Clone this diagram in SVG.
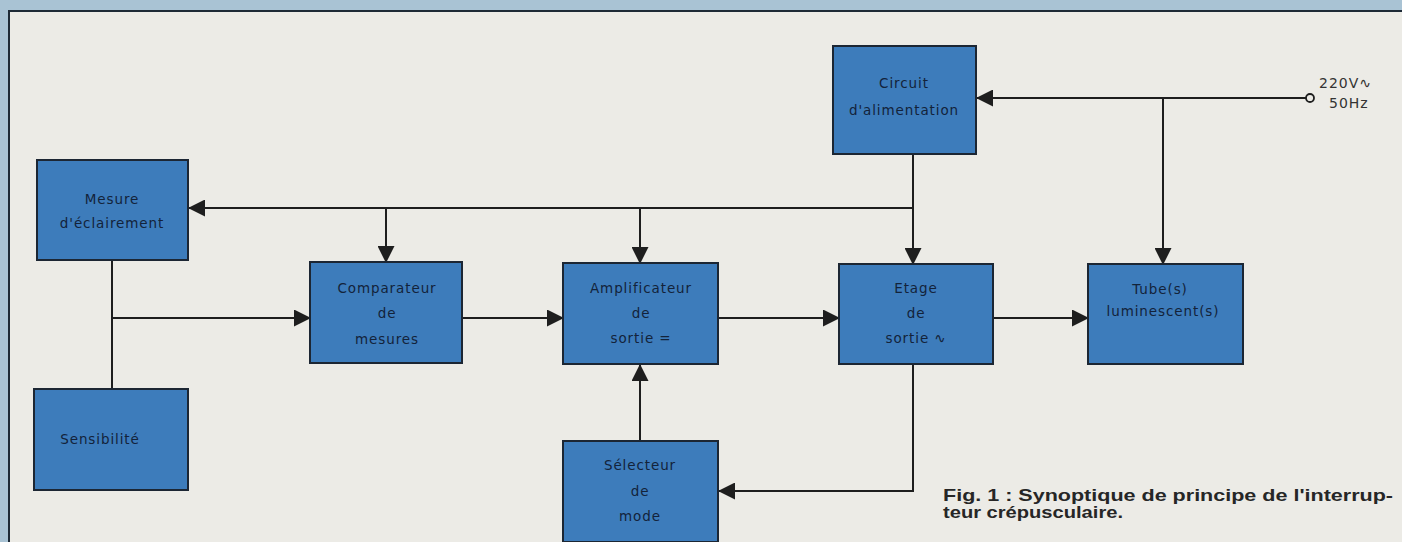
<svg xmlns="http://www.w3.org/2000/svg" width="1402" height="542" viewBox="0 0 1402 542">
<style>
.box{fill:#3d7cbb;stroke:#1c2633;stroke-width:2}
.lbl{font-family:"DejaVu Sans",sans-serif;font-size:13.5px;fill:#13233a;text-anchor:middle;letter-spacing:0.9px}
.wire{stroke:#1e1e1e;stroke-width:2;fill:none}
.cap{font-family:"Liberation Sans",Arial,sans-serif;font-weight:bold;font-size:17px;fill:#262626}
.pw{font-family:"DejaVu Sans",sans-serif;font-size:14px;fill:#333;letter-spacing:1px}
</style>
<defs>
<marker id="ah" markerUnits="userSpaceOnUse" markerWidth="17" markerHeight="17" viewBox="0 0 17 17" refX="16" refY="8.5" orient="auto">
<path d="M0,0 L17,8.5 L0,17 Z" fill="#1e1e1e"/>
</marker>
</defs>
<rect x="0" y="0" width="1402" height="542" fill="#a9c3d4"/>
<rect x="9" y="11" width="1400" height="540" fill="#ecebe6" stroke="#1e2a36" stroke-width="2"/>

<g id="connectors">
<circle cx="1310" cy="98" r="4" fill="#ecebe6" stroke="#1e1e1e" stroke-width="1.8"/>
<line class="wire" x1="1306" y1="98" x2="977" y2="98" marker-end="url(#ah)"/>
<line class="wire" x1="1163" y1="98" x2="1163" y2="264" marker-end="url(#ah)"/>
<line class="wire" x1="913" y1="154" x2="913" y2="264" marker-end="url(#ah)"/>
<line class="wire" x1="913" y1="208" x2="189" y2="208" marker-end="url(#ah)"/>
<line class="wire" x1="386" y1="208" x2="386" y2="262" marker-end="url(#ah)"/>
<line class="wire" x1="640" y1="208" x2="640" y2="263" marker-end="url(#ah)"/>
<line class="wire" x1="112" y1="260" x2="112" y2="389"/>
<line class="wire" x1="112" y1="318" x2="310" y2="318" marker-end="url(#ah)"/>
<line class="wire" x1="462" y1="318" x2="563" y2="318" marker-end="url(#ah)"/>
<line class="wire" x1="718" y1="318" x2="839" y2="318" marker-end="url(#ah)"/>
<line class="wire" x1="993" y1="318" x2="1088" y2="318" marker-end="url(#ah)"/>
<polyline class="wire" points="913,364 913,491 719,491" marker-end="url(#ah)"/>
<line class="wire" x1="640" y1="441" x2="640" y2="365" marker-end="url(#ah)"/>
</g>

<g id="circuit">
<rect class="box" x="833" y="46" width="143" height="108"/>
<text class="lbl" x="904" y="88">Circuit</text>
<text class="lbl" x="904" y="115">d'alimentation</text>
</g>
<g id="mesure">
<rect class="box" x="37" y="160" width="151" height="100"/>
<text class="lbl" x="112" y="204">Mesure</text>
<text class="lbl" x="112" y="228">d'éclairement</text>
</g>
<g id="sensibilite">
<rect class="box" x="34" y="389" width="154" height="101"/>
<text class="lbl" x="100" y="444">Sensibilité</text>
</g>
<g id="comparateur">
<rect class="box" x="310" y="262" width="152" height="101"/>
<text class="lbl" x="387" y="293">Comparateur</text>
<text class="lbl" x="387" y="318">de</text>
<text class="lbl" x="387" y="344">mesures</text>
</g>
<g id="amplificateur">
<rect class="box" x="563" y="263" width="155" height="101"/>
<text class="lbl" x="641" y="293">Amplificateur</text>
<text class="lbl" x="641" y="318">de</text>
<text class="lbl" x="641" y="343">sortie  =</text>
</g>
<g id="etage">
<rect class="box" x="839" y="264" width="154" height="100"/>
<text class="lbl" x="916" y="293">Etage</text>
<text class="lbl" x="916" y="318">de</text>
<text class="lbl" x="916" y="343">sortie  ∿</text>
</g>
<g id="tube">
<rect class="box" x="1088" y="264" width="155" height="100"/>
<text class="lbl" x="1160" y="294">Tube(s)</text>
<text class="lbl" x="1163" y="316">luminescent(s)</text>
</g>
<g id="selecteur">
<rect class="box" x="563" y="441" width="155" height="101"/>
<text class="lbl" x="640" y="470">Sélecteur</text>
<text class="lbl" x="640" y="496">de</text>
<text class="lbl" x="640" y="521">mode</text>
</g>

<g id="power-label">
<text class="pw" x="1319" y="88">220V∿</text>
<text class="pw" x="1329" y="108">50Hz</text>
</g>
<g id="caption">
<text class="cap" x="943" y="501" textLength="450" lengthAdjust="spacingAndGlyphs">Fig. 1 : Synoptique de principe de l'interrup-</text>
<text class="cap" x="943" y="518" textLength="180" lengthAdjust="spacingAndGlyphs">teur crépusculaire.</text>
</g>
</svg>
